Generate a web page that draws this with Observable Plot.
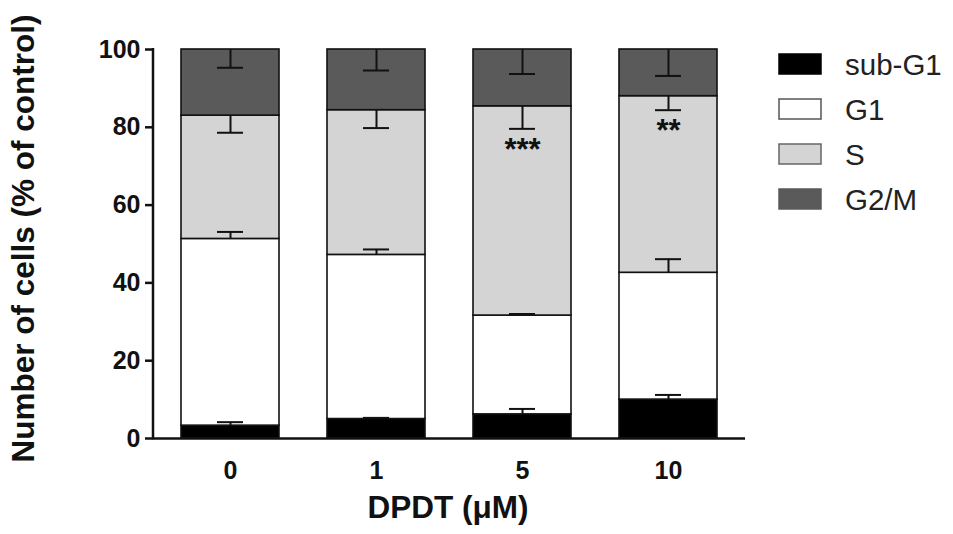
<!DOCTYPE html>
<html>
<head>
<meta charset="utf-8">
<script src="https://cdn.jsdelivr.net/npm/d3@7"></script>
<script src="https://cdn.jsdelivr.net/npm/@observablehq/plot@0.6"></script>
<style>
  html, body { margin: 0; padding: 0; background: #fff; }
  #chart { position: relative; width: 953px; height: 534px; }
  svg text { font-family: "Liberation Sans", Arial, Helvetica, sans-serif; }
  g[aria-label="y-axis tick label"] text, g[aria-label="x-axis tick label"] text { font-weight: bold; fill: #111; }
</style>
</head>
<body>
<div id="chart"></div>
<script>
// ---- data ----
const doses = ["0", "1", "5", "10"];
const phases = ["sub-G1", "G1", "S", "G2/M"];
const phaseColors = ["#000000", "#ffffff", "#d4d4d4", "#5a5a5a"];
const legendStrokes = ["#000000", "#555555", "#666666", "#5a5a5a"];
const subG1 = [3.3, 5.0, 6.2, 10.0];
const g1 = [48.0, 42.2, 25.4, 32.6];
const sPhase = [31.7, 37.2, 53.8, 45.4];
const g2m = [17.0, 15.6, 14.6, 12.0];
const subG1Err = [0.9, 0.3, 1.4, 1.2];
const g1Err = [1.8, 1.4, 0.4, 3.5];
const sErr = [4.4, 4.6, 5.8, 3.6];
const g2mErr = [4.7, 5.4, 6.3, 6.8];
const errDirection = [1, 1, -1, -1]; // error bar drawn up (1) or down (-1)
const significance = ["", "", "***", "**"]; // marked on S phase
const yTicks = [0, 20, 40, 60, 80, 100];
const xTitle = "DPDT (\u03bcM)";
const yTitle = "Number of cells (% of control)";

const series = [subG1, g1, sPhase, g2m];
const errs = [subG1Err, g1Err, sErr, g2mErr];

const rows = [];
phases.forEach((p, pi) => {
  doses.forEach((d, di) => {
    let top = 0;
    for (let k = 0; k <= pi; k++) top += series[k][di];
    const end = top + errDirection[pi] * errs[pi][di];
    rows.push({dose: d, phase: p, value: series[pi][di], top, end});
  });
});
const sigRows = doses.map((d, di) => {
  const r = rows.find(r => r.dose === d && r.phase === "S");
  return {dose: d, text: significance[di], y: r.end};
});

const plot = Plot.plot({
  width: 953,
  height: 534,
  marginTop: 49,
  marginBottom: 96,
  marginLeft: 153,
  marginRight: 208,
  style: {fontSize: "25px", fontFamily: "Liberation Sans, Arial, sans-serif", color: "#111"},
  x: {domain: doses, paddingInner: 0.332, paddingOuter: 0.18, tickSize: 0, tickPadding: 23, label: null},
  y: {domain: [0, 100], ticks: yTicks, tickSize: 8, tickPadding: 5, label: null},
  color: {domain: phases, range: phaseColors},
  marks: [
    Plot.barY(rows, {x: "dose", y: "value", fill: "phase", stroke: "#111", strokeWidth: 1.6}),
    Plot.ruleX(rows, {x: "dose", y1: "top", y2: "end", stroke: "#111", strokeWidth: 2}),
    Plot.tickY(rows, {x: "dose", y: "end", insetLeft: 36, insetRight: 36, stroke: "#111", strokeWidth: 2}),
    Plot.text(sigRows, {x: "dose", y: "y", text: "text", dy: 21, fontSize: 31, fontWeight: "bold", fill: "#111"}),
    Plot.ruleY([0], {stroke: "#111", strokeWidth: 2.5})
  ]
});

const svg = d3.select(plot);
const yS = plot.scale("y");
// thicker y ticks
svg.selectAll('g[aria-label="y-axis tick"] path').attr("stroke-width", 2.5).attr("stroke", "#111");
// y axis line
svg.append("line")
  .attr("x1", 153).attr("x2", 153)
  .attr("y1", yS.apply(100) - 1).attr("y2", yS.apply(0) + 1.2)
  .attr("stroke", "#111").attr("stroke-width", 2.5);

// axis titles
svg.append("text")
  .attr("transform", `translate(23,${(yS.apply(0) + yS.apply(100)) / 2 - 5}) rotate(-90)`)
  .attr("text-anchor", "middle").attr("dominant-baseline", "central")
  .attr("font-size", 31.5).attr("font-weight", "bold").attr("fill", "#111")
  .text(yTitle);
svg.append("text")
  .attr("x", 448).attr("y", 507)
  .attr("text-anchor", "middle").attr("dominant-baseline", "central")
  .attr("font-size", 31.5).attr("font-weight", "bold").attr("fill", "#111")
  .text(xTitle);

// legend
const lg = svg.append("g");
phases.forEach((p, i) => {
  const cy = 64 + i * 45;
  lg.append("rect").attr("x", 779).attr("y", cy - 10).attr("width", 42).attr("height", 20)
    .attr("fill", phaseColors[i]).attr("stroke", legendStrokes[i]).attr("stroke-width", 1.5);
  lg.append("text").attr("x", 845).attr("y", cy).attr("dominant-baseline", "central")
    .attr("text-anchor", "start")
    .attr("font-size", 29.5).attr("fill", "#222").text(p);
});

document.getElementById("chart").appendChild(plot);
</script>
</body>
</html>
